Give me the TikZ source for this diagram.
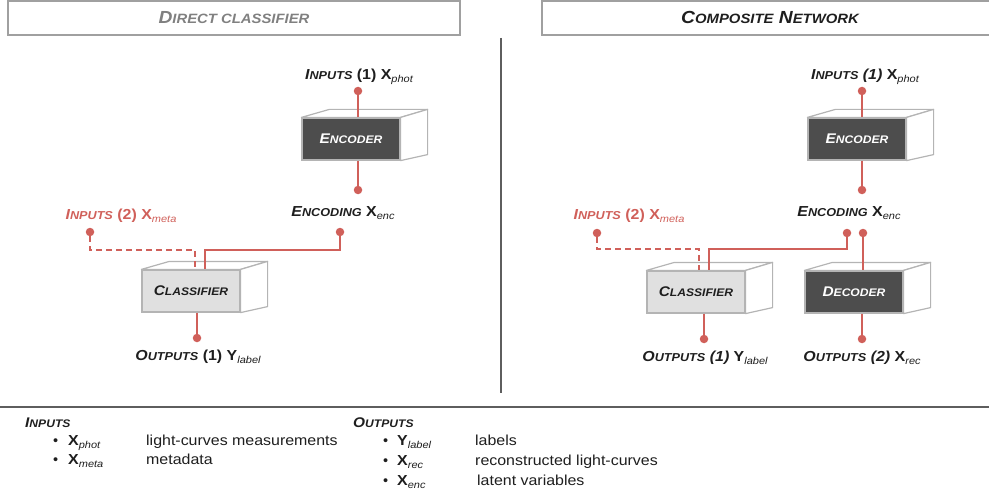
\documentclass[tikz,border=0pt]{standalone}
\usepackage{fontspec}
\setmainfont{Liberation Sans}
\usepackage{graphicx}
\usetikzlibrary{calc}

\definecolor{accent}{HTML}{D0605A}
\definecolor{darkface}{HTML}{4D4D4D}
\definecolor{lightface}{HTML}{E0E0E0}
\definecolor{edge}{HTML}{B4B4B4}
\definecolor{framegray}{HTML}{A0A0A0}
\definecolor{rulegray}{HTML}{5E5E5E}
\definecolor{titlegray}{HTML}{808080}
\definecolor{ink}{HTML}{1E1E1E}

% fake small caps: first letter large, rest smaller capitals
\newcommand\smc[4]{{\fontsize{#1}{#1}\selectfont #3}{\fontsize{#2}{#2}\selectfont #4}}
% bold variable with italic subscript
\newcommand\varsym[3]{{\fontsize{#1}{#1}\selectfont\upshape\bfseries #2}\raisebox{-3pt}{\fontsize{10}{10}\selectfont\mdseries\itshape #3}}
\newcommand\wider[1]{\scalebox{1.1}[1]{#1}}

% three-dimensional block: top and right faces behind a named front face
\newcommand\blockfaces[1]{%
  \draw[edge, line width=1.2pt, fill=white, line join=round]
    (#1.north west) -- ++(28,-8) -- ($(#1.north east)+(27,-8)$) -- (#1.north east) -- cycle;
  \draw[edge, line width=1.2pt, fill=white, line join=round]
    (#1.north east) -- ($(#1.north east)+(27,-8)$) -- ($(#1.south east)+(27,-6)$) -- (#1.south east) -- cycle;
}

\begin{document}
\begin{tikzpicture}[x=1pt, y=-1pt,
  lbl/.style={anchor=base, inner sep=0pt, text=ink,
    font=\fontsize{14.5}{14.5}\selectfont\bfseries\itshape},
  title/.style={anchor=base, inner sep=0pt,
    font=\fontsize{17.5}{17.5}\selectfont\bfseries\itshape},
  legtxt/.style={anchor=base west, inner sep=0pt, text=ink,
    font=\fontsize{14.5}{14.5}\selectfont},
  leghead/.style={anchor=base west, inner sep=0pt, text=ink,
    font=\fontsize{14}{14}\selectfont\bfseries\itshape},
  dot/.style={circle, fill=accent, inner sep=0pt, minimum size=8.5pt},
  wire/.style={draw=accent, line width=1.4pt},
  dwire/.style={wire, dash pattern=on 6pt off 4pt},
  front/.style={rectangle, minimum width=98pt, minimum height=42pt,
    draw=edge, line width=1.2pt, inner sep=0pt,
    font=\bfseries\itshape},
  darkbox/.style={front, fill=darkface, text=white},
  lightbox/.style={front, fill=lightface, text=ink},
  frame/.style={draw=framegray, line width=1.5pt}
]
\useasboundingbox (0,0) rectangle (989,495);

% ---------- headers ----------
\draw[frame] (8,1) rectangle (460,35);
\node[title, text=titlegray] (tLeft) at (234,24) {\wider{\smc{17.5}{13.5}{D}{IRECT CLASSIFIER}}};
\draw[frame] (542,1) rectangle (995,35);
\node[title, text=ink] (tRight) at (770,24) {\wider{\smc{17.5}{13.5}{C}{OMPOSITE} \smc{17.5}{13.5}{N}{ETWORK}}};

% ---------- separators ----------
\draw[rulegray, line width=1.6pt] (501,38) -- (501,393);
\draw[rulegray, line width=2pt] (0,407) -- (989,407);

% ================= direct classifier =================
\node[darkbox] (encL) at (351,139) {\wider{\smc{14}{11}{E}{NCODER}}};
\blockfaces{encL}
\node[lightbox] (clsL) at (191,291) {\wider{\smc{14}{11}{C}{LASSIFIER}}};
\blockfaces{clsL}

\node[lbl] (inPhotL) at (359,80) {\wider{\smc{14.5}{11.5}{I}{NPUTS} {\upshape(1)} \varsym{14.5}{X}{phot}}};
\node[dot] (dInL) at (358,91) {};
\node[dot] (dEncOutL) at (358,190) {};
\node[lbl] (encLabL) at (343,216) {\wider{\smc{14.5}{11.5}{E}{NCODING} \varsym{14.5}{X}{enc}}};
\node[dot] (dEncInL) at (340,232) {};
\node[lbl, text=accent] (inMetaL) at (121,219) {\wider{\smc{14.5}{11.5}{I}{NPUTS} {\upshape(2)} \varsym{14.5}{X}{meta}}};
\node[dot] (dMetaL) at (90,232) {};
\node[dot] (dOutL) at (197,338) {};
\node[lbl] (outLabL) at (198,360) {\wider{\smc{14.5}{11.5}{O}{UTPUTS} {\upshape(1)} \varsym{14.5}{Y}{label}}};

\coordinate (kMetaL) at (195,250);
\coordinate (kEncL) at (205,250);
\draw[wire] (dInL) -- (dInL |- encL.north);
\draw[wire] (dInL |- encL.south) -- (dEncOutL);
\draw[wire] (dEncInL) |- (kEncL) -- (kEncL |- clsL.north);
\draw[dwire] (dMetaL) |- (kMetaL) -- (kMetaL |- clsL.north);
\draw[wire] (dOutL |- clsL.south) -- (dOutL);

% ================= composite network =================
\node[darkbox] (encR) at (857,139) {\wider{\smc{14}{11}{E}{NCODER}}};
\blockfaces{encR}
\node[lightbox] (clsR) at (696,292) {\wider{\smc{14}{11}{C}{LASSIFIER}}};
\blockfaces{clsR}
\node[darkbox] (decR) at (854,292) {\wider{\smc{14}{11}{D}{ECODER}}};
\blockfaces{decR}

\node[lbl] (inPhotR) at (865,80) {\wider{\smc{14.5}{11.5}{I}{NPUTS} (1) \varsym{14.5}{X}{phot}}};
\node[dot] (dInR) at (862,91) {};
\node[dot] (dEncOutR) at (862,190) {};
\node[lbl] (encLabR) at (849,216) {\wider{\smc{14.5}{11.5}{E}{NCODING} \varsym{14.5}{X}{enc}}};
\node[dot] (dEncInR) at (847,233) {};
\node[dot] (dDecInR) at (863,233) {};
\node[lbl, text=accent] (inMetaR) at (629,219) {\wider{\smc{14.5}{11.5}{I}{NPUTS} {\upshape(2)} \varsym{14.5}{X}{meta}}};
\node[dot] (dMetaR) at (597,233) {};
\node[dot] (dOutR) at (704,339) {};
\node[lbl] (outLabR) at (705,361) {\wider{\smc{14.5}{11.5}{O}{UTPUTS} (1) \varsym{14.5}{Y}{label}}};
\node[dot] (dRecR) at (862,339) {};
\node[lbl] (recLabR) at (862,361) {\wider{\smc{14.5}{11.5}{O}{UTPUTS} (2) \varsym{14.5}{X}{rec}}};

\coordinate (kMetaR) at (699,249);
\coordinate (kEncR) at (709,249);
\draw[wire] (dInR) -- (dInR |- encR.north);
\draw[wire] (dInR |- encR.south) -- (dEncOutR);
\draw[wire] (dEncInR) |- (kEncR) -- (kEncR |- clsR.north);
\draw[dwire] (dMetaR) |- (kMetaR) -- (kMetaR |- clsR.north);
\draw[wire] (dDecInR) -- (dDecInR |- decR.north);
\draw[wire] (dOutR |- clsR.south) -- (dOutR);
\draw[wire] (dRecR |- decR.south) -- (dRecR);

% ================= legend =================
\node[leghead] (hIn) at (25,427) {\wider{\smc{14}{11}{I}{NPUTS}}};
\node[legtxt] (b1) at (53,445) {\textbullet};
\node[legtxt] (v1) at (68,445) {\wider{\varsym{14.5}{X}{phot}}};
\node[legtxt] (t1) at (146,445) {\wider{light-curves measurements}};
\node[legtxt] (b2) at (53,464) {\textbullet};
\node[legtxt] (v2) at (68,464) {\wider{\varsym{14.5}{X}{meta}}};
\node[legtxt] (t2) at (146,464) {\wider{metadata}};

\node[leghead] (hOut) at (353,427) {\wider{\smc{14}{11}{O}{UTPUTS}}};
\node[legtxt] (b3) at (383,445) {\textbullet};
\node[legtxt] (v3) at (397,445) {\wider{\varsym{14.5}{Y}{label}}};
\node[legtxt] (t3) at (475,445) {\wider{labels}};
\node[legtxt] (b4) at (383,465) {\textbullet};
\node[legtxt] (v4) at (397,465) {\wider{\varsym{14.5}{X}{rec}}};
\node[legtxt] (t4) at (475,465) {\wider{reconstructed light-curves}};
\node[legtxt] (b5) at (383,485) {\textbullet};
\node[legtxt] (v5) at (397,485) {\wider{\varsym{14.5}{X}{enc}}};
\node[legtxt] (t5) at (477,485) {\wider{latent variables}};
\end{tikzpicture}
\end{document}
